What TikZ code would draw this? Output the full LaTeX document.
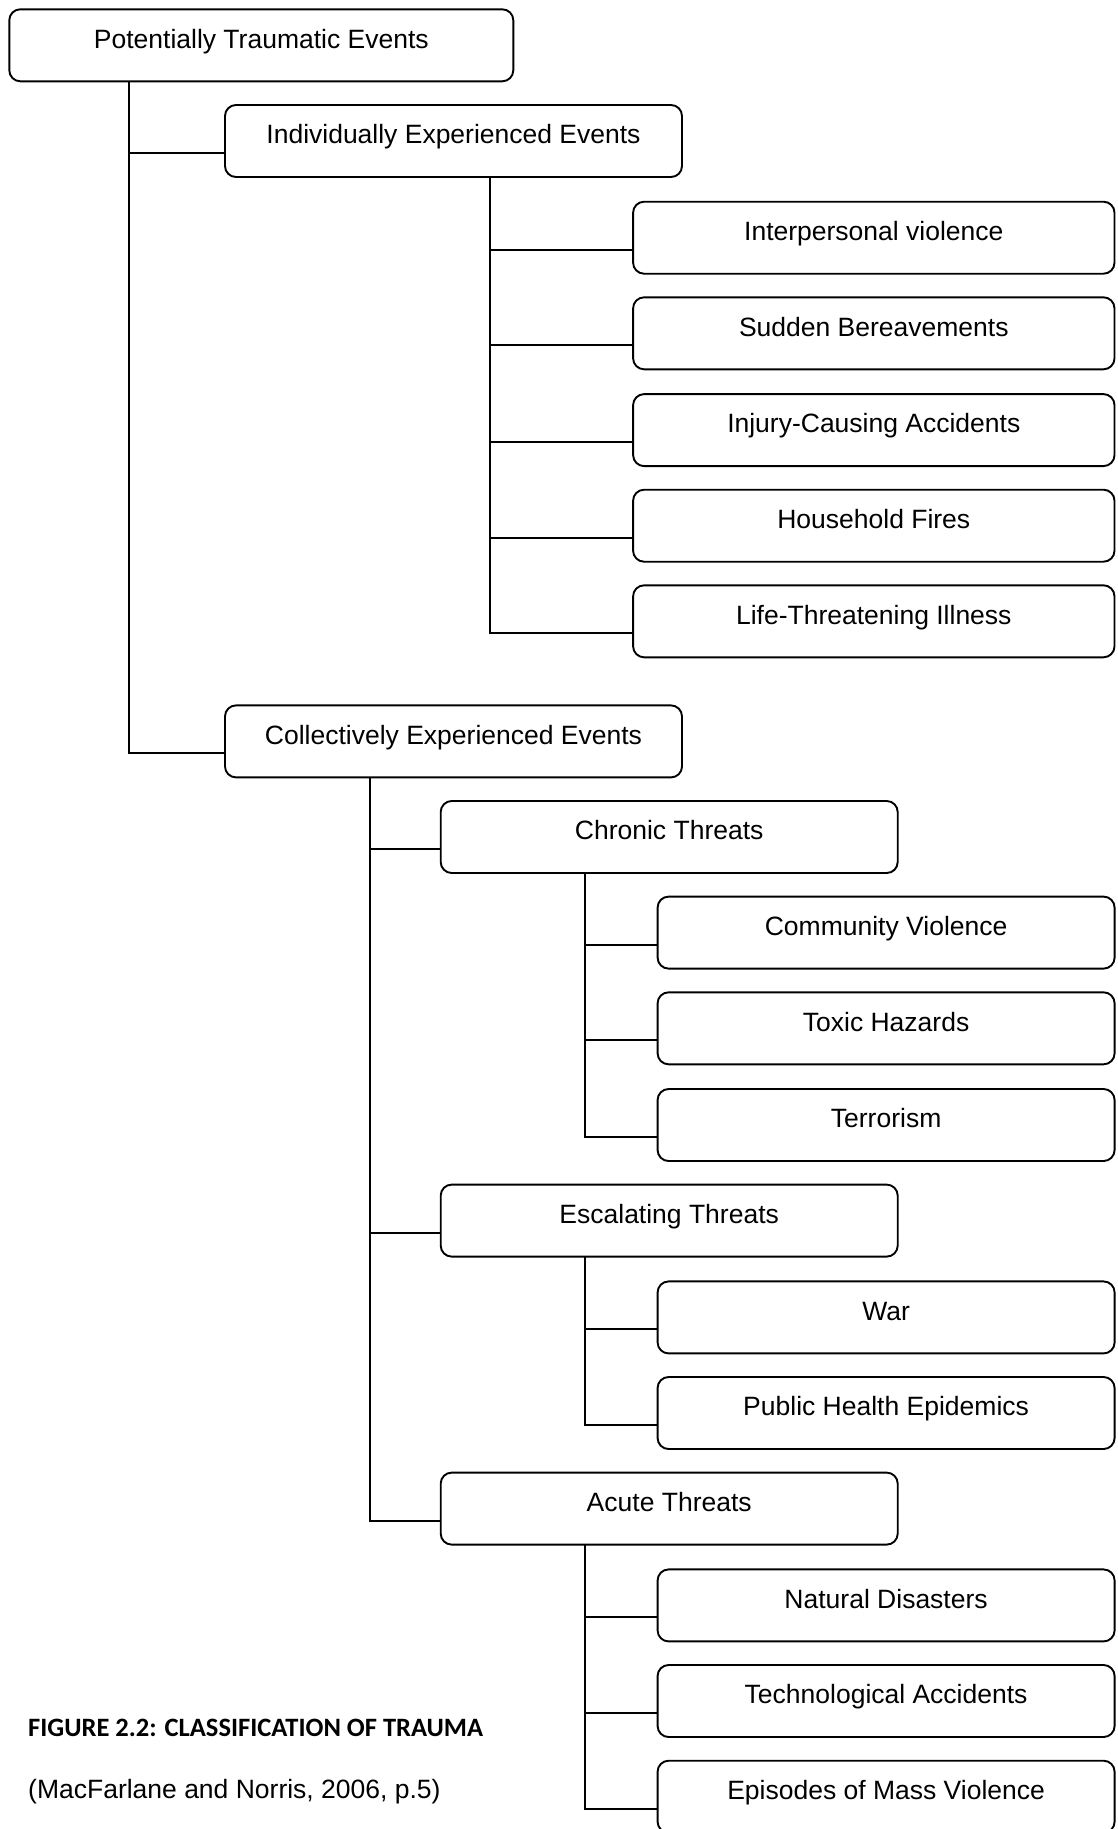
\documentclass[tikz,border=0pt]{standalone}
\usepackage{fontspec}
\setmainfont{Liberation Sans}
\newfontfamily\capfont{Carlito}
\usetikzlibrary{calc}
\tikzset{
  tbox/.style={draw, line width=1.9pt, rounded corners=11pt, anchor=north west,
    minimum height=72pt, inner sep=0pt, outer sep=0pt, font=\fontsize{26.5}{30}\selectfont,
    text height=19pt, text depth=13.6pt},
  conn/.style={line width=1.9pt},
}
\begin{document}
\begin{tikzpicture}[x=1pt,y=-1pt]
\useasboundingbox (0,0) rectangle (1117,1829);
% level 0
\node[tbox, minimum width=504pt] (top) at (9.3,9.3) {Potentially Traumatic Events};
% level 1
\node[tbox, minimum width=457pt] (ind) at (225,105) {Individually Experienced Events};
\node[tbox, minimum width=457pt] (coll) at (225,705.4) {Collectively Experienced Events};
% individual children
\node[tbox, minimum width=481.4pt] (i1) at (633.1,201.7) {Interpersonal violence};
\node[tbox, minimum width=481.4pt] (i2) at (633.1,297.3) {Sudden Bereavements};
\node[tbox, minimum width=481.4pt] (i3) at (633.1,394.1) {Injury-Causing Accidents};
\node[tbox, minimum width=481.4pt] (i4) at (633.1,489.7) {Household Fires};
\node[tbox, minimum width=481.4pt] (i5) at (633.1,585.3) {Life-Threatening Illness};
% collective level 2
\node[tbox, minimum width=457pt] (chr) at (440.7,801) {Chronic Threats};
\node[tbox, minimum width=457pt] (esc) at (440.7,1184.6) {Escalating Threats};
\node[tbox, minimum width=457pt] (acu) at (440.7,1472.6) {Acute Threats};
% chronic children
\node[tbox, minimum width=457pt] (c1) at (657.6,896.6) {Community Violence};
\node[tbox, minimum width=457pt] (c2) at (657.6,992.3) {Toxic Hazards};
\node[tbox, minimum width=457pt] (c3) at (657.6,1089) {Terrorism};
% escalating children
\node[tbox, minimum width=457pt] (e1) at (657.6,1281.4) {War};
\node[tbox, minimum width=457pt] (e2) at (657.6,1377) {Public Health Epidemics};
% acute children
\node[tbox, minimum width=457pt] (a1) at (657.6,1569.4) {Natural Disasters};
\node[tbox, minimum width=457pt] (a2) at (657.6,1665) {Technological Accidents};
\node[tbox, minimum width=457pt] (a3) at (657.6,1760.7) {Episodes of Mass Violence};
% connectors
\foreach \c in {ind,coll}
  \draw[conn] ($(\c.north west)+(0,48)$) -| ($(top.south west)+(120.1,0)$);
\foreach \c in {i1,i2,i3,i4,i5}
  \draw[conn] ($(\c.north west)+(0,48)$) -| ($(ind.south west)+(264.7,0)$);
\foreach \c in {chr,esc,acu}
  \draw[conn] ($(\c.north west)+(0,48)$) -| ($(coll.south west)+(144.6,0)$);
\foreach \c in {c1,c2,c3}
  \draw[conn] ($(\c.north west)+(0,48)$) -| ($(chr.south west)+(144.6,0)$);
\foreach \c in {e1,e2}
  \draw[conn] ($(\c.north west)+(0,48)$) -| ($(esc.south west)+(144.6,0)$);
\foreach \c in {a1,a2,a3}
  \draw[conn] ($(\c.north west)+(0,48)$) -| ($(acu.south west)+(144.6,0)$);
% caption
\node[anchor=west, inner sep=0pt, font=\capfont\bfseries\fontsize{26.5}{30}\selectfont] (cap1) at (28,1728) {FIGURE 2.2: CLASSIFICATION OF TRAUMA};
\node[anchor=west, inner sep=0pt, font=\fontsize{26.5}{30}\selectfont] (cap2) at (28,1792) {(MacFarlane and Norris, 2006, p.5)};
\end{tikzpicture}
\end{document}
